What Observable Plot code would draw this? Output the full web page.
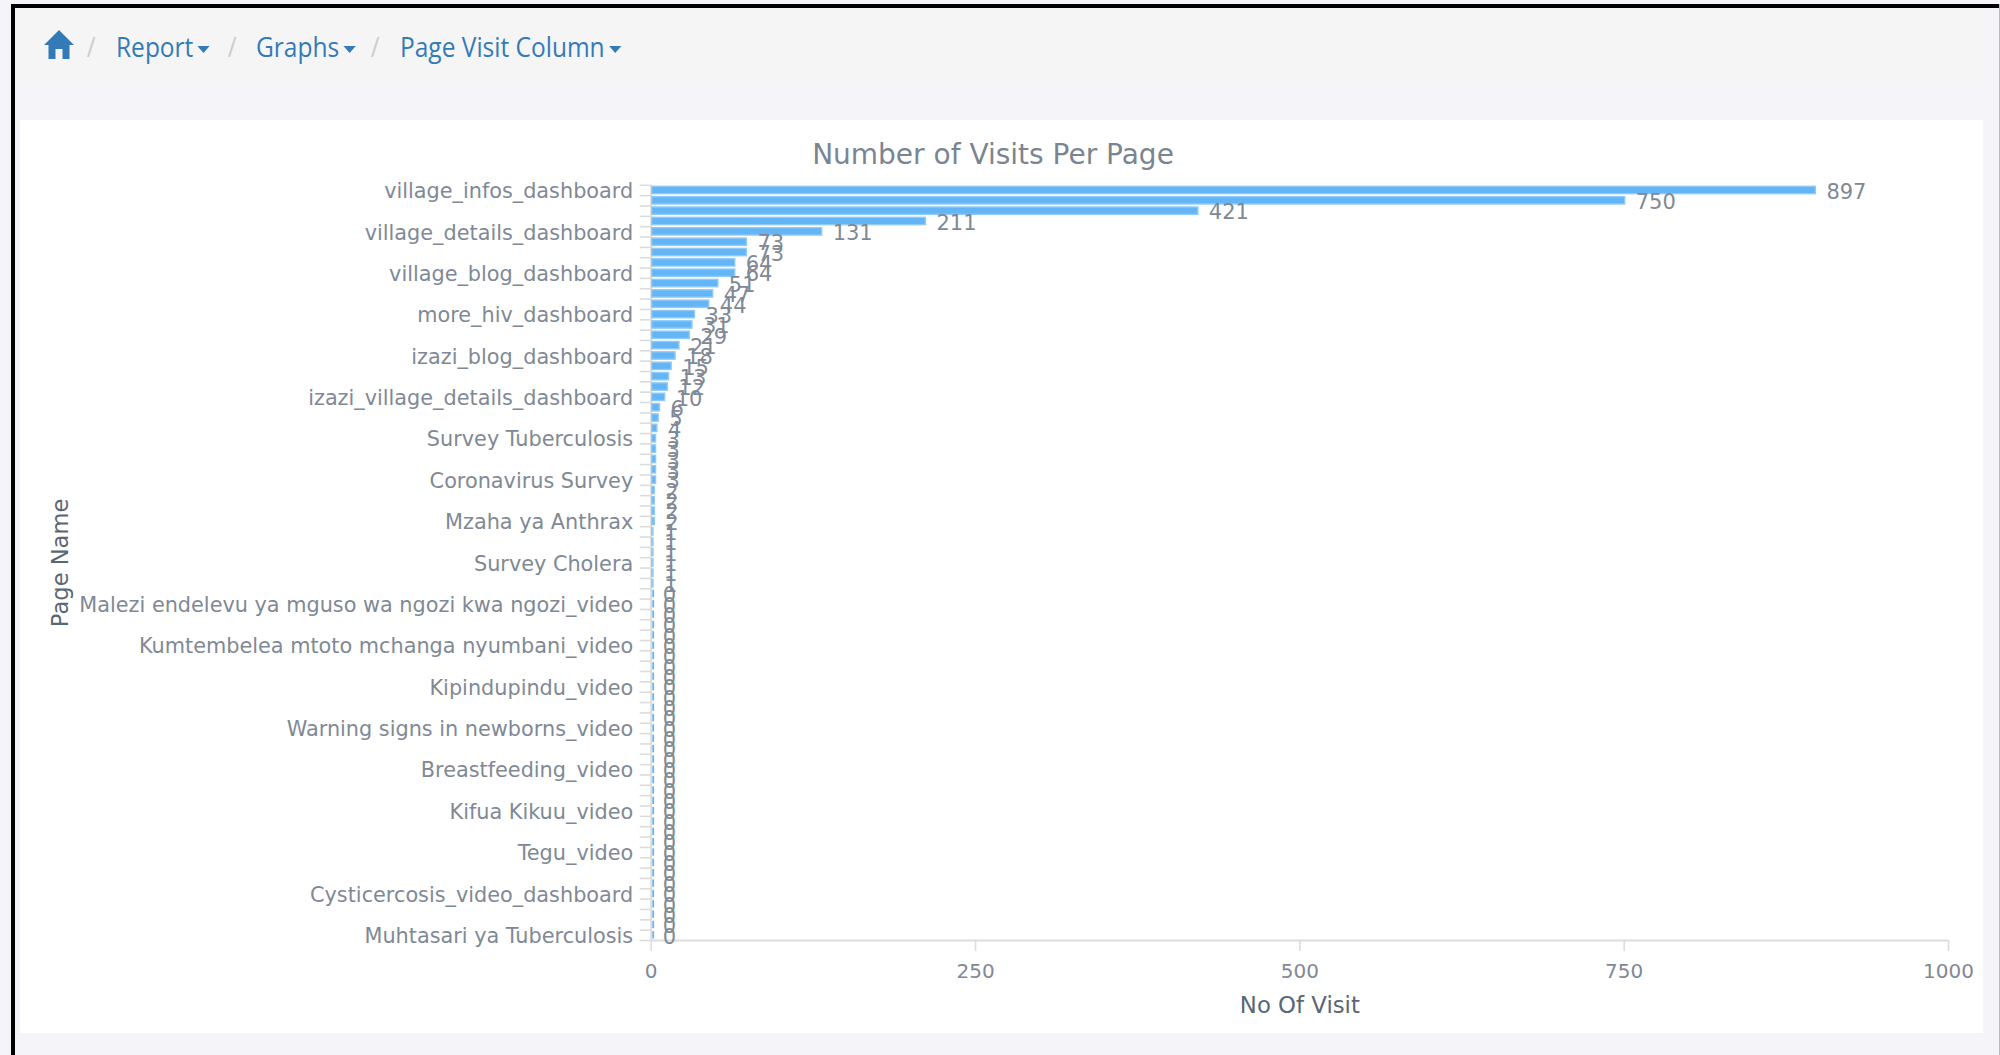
<!DOCTYPE html>
<html>
<head>
<meta charset="utf-8">
<script src="https://cdn.jsdelivr.net/npm/d3@7"></script>
<script src="https://cdn.jsdelivr.net/npm/@observablehq/plot@0.6"></script>
<style>
html,body{margin:0;padding:0;background:#fff;}
#page{position:relative;width:2000px;height:1055px;overflow:hidden;background:#f4f4f9;}
#bt{position:absolute;left:11px;top:4px;width:1989px;height:4px;background:#000;}
#bl{position:absolute;left:11px;top:4px;width:4px;height:1051px;background:#000;}
#br{position:absolute;left:1999px;top:4px;width:1px;height:1051px;background:#bbb;}
#crumb{position:absolute;left:15px;top:8px;width:1968px;height:75px;background:#f5f5f5;}
.c{position:absolute;top:26.5px;font:28px/38px "Open Sans",sans-serif;color:#337ab7;transform-origin:left center;transform:scaleX(.875);white-space:nowrap;}
.c::after{content:"";display:inline-block;margin-left:5px;vertical-align:middle;border-top:7px solid #337ab7;border-left:7.5px solid transparent;border-right:7.5px solid transparent;}
.s{position:absolute;top:26.5px;font:28px/38px "Open Sans",sans-serif;color:#ccc;transform:scaleX(.86);}
#panel{position:absolute;left:20px;top:120px;width:1963px;height:913px;background:#fff;}
#panel svg{position:absolute;left:0;top:0;}
#title{position:absolute;left:0;top:18px;width:1946px;text-align:center;font:28px "DejaVu Sans",sans-serif;color:#7b8591;white-space:nowrap;}
</style>
</head>
<body>
<div id="page">
  <div id="crumb"></div>
  <svg style="position:absolute;left:44px;top:29px" width="30" height="31" viewBox="0 0 30 31"><path d="M15 1 L30 16 L25.5 16 L25.5 30 L18.500 30 L18.500 20 L11.500 20 L11.500 30 L4.500 30 L4.500 16 L0 16 Z" fill="#337ab7"/></svg>
  <span class="s" style="left:86px">/</span>
  <span class="c" style="left:116px">Report</span>
  <span class="s" style="left:227px">/</span>
  <span class="c" style="left:256px">Graphs</span>
  <span class="s" style="left:370px">/</span>
  <span class="c" style="left:400px">Page Visit Column</span>
  <div id="panel"><div id="title">Number of Visits Per Page</div></div>
  <div id="bt"></div><div id="bl"></div><div id="br"></div>
</div>
<script>
const chartTitle = "Number of Visits Per Page";
const xLabel = "No Of Visit";
const yLabel = "Page Name";
const visits = [897,750,421,211,131,73,73,64,64,51,47,44,33,31,29,21,18,15,13,12,10,6,5,4,3,3,3,3,3,2,2,2,2,1,1,1,1,1,1,
  0,0,0,0,0,0,0,0,0,0,0,0,0,0,0,0,0,0,0,0,0,0,0,0,0,0,0,0,0,0,0,0,0,0];
// every fourth row is labelled in the reference
const shownPages = ["village_infos_dashboard","village_details_dashboard","village_blog_dashboard","more_hiv_dashboard",
  "izazi_blog_dashboard","izazi_village_details_dashboard","Survey Tuberculosis","Coronavirus Survey","Mzaha ya Anthrax",
  "Survey Cholera","Malezi endelevu ya mguso wa ngozi kwa ngozi_video","Kumtembelea mtoto mchanga nyumbani_video",
  "Kipindupindu_video","Warning signs in newborns_video","Breastfeeding_video","Kifua Kikuu_video","Tegu_video",
  "Cysticercosis_video_dashboard","Muhtasari ya Tuberculosis"];
const xTicks = [0,250,500,750,1000];

const rows = visits.map((v,i)=>({row:i, v}));
const nonZero = rows.filter(d=>d.v>0);
const zero = rows.filter(d=>d.v===0);
const boundaries = d3.range(visits.length+1);
const textCol = "#7f8995", axisCol = "#dcdcdc", barFill = "#64b5f6", barEdge = "#90caf9";
const fontFam = '"DejaVu Sans",sans-serif';

const chart = Plot.plot({
  width:1963, height:913,
  marginLeft:630.7, marginRight:35, marginTop:64.8, marginBottom:93,
  style:{background:"transparent",fontFamily:fontFam,fontSize:"20px",color:textCol},
  x:{domain:[0,1000]},
  y:{domain:[visits.length,0]},
  marks:[
    Plot.ruleX([0],{y1:0,y2:visits.length,stroke:axisCol,strokeWidth:2}),
    Plot.ruleY([visits.length],{x1:0,x2:1000,stroke:axisCol,strokeWidth:2}),
    Plot.axisY({ticks:boundaries,tickSize:11,tickFormat:()=>"",stroke:axisCol,strokeWidth:1.6,strokeOpacity:1,label:null}),
    Plot.axisY({ticks:shownPages.map((_,i)=>i*4+.5),tickSize:0,tickPadding:18,dy:1,tickFormat:d=>shownPages[Math.round((d-.5)/4)],
      fill:textCol,fontSize:20.8,label:null,textOverflow:null,lineWidth:Infinity}),
    Plot.axisX({ticks:xTicks,tickSize:11,tickPadding:12,tickFormat:d=>String(d),stroke:axisCol,strokeWidth:1.6,strokeOpacity:1,
      fill:textCol,fontSize:20,label:null}),
    Plot.text([xLabel],{frameAnchor:"bottom",dy:72,text:d=>d,x:500,fill:"#596673",fontSize:22.8}),
    Plot.text([yLabel],{frameAnchor:"left",textAnchor:"middle",x:0,y:visits.length/2,text:d=>d,rotate:-90,dx:-590.7,dy:0,fill:"#596673",fontSize:22.6}),
    Plot.rectX(nonZero,{x1:0,x2:"v",y1:"row",y2:d=>d.row+1,insetTop:1.5,insetBottom:1.5,insetLeft:1,insetRight:-1,fill:barFill,stroke:barEdge,strokeWidth:1.4}),
    Plot.ruleX(zero,{x:0,y1:"row",y2:d=>d.row+1,insetTop:1.5,insetBottom:1.5,dx:2,stroke:"#64b5f6",strokeWidth:1.8}),
    Plot.text(rows,{x:"v",y:d=>d.row+.5,text:d=>String(d.v),textAnchor:"start",dx:11.5,dy:1.5,fill:textCol,fontSize:21})
  ]
});
document.getElementById("panel").appendChild(chart);
document.getElementById("title").textContent = chartTitle;
</script>
</body>
</html>
